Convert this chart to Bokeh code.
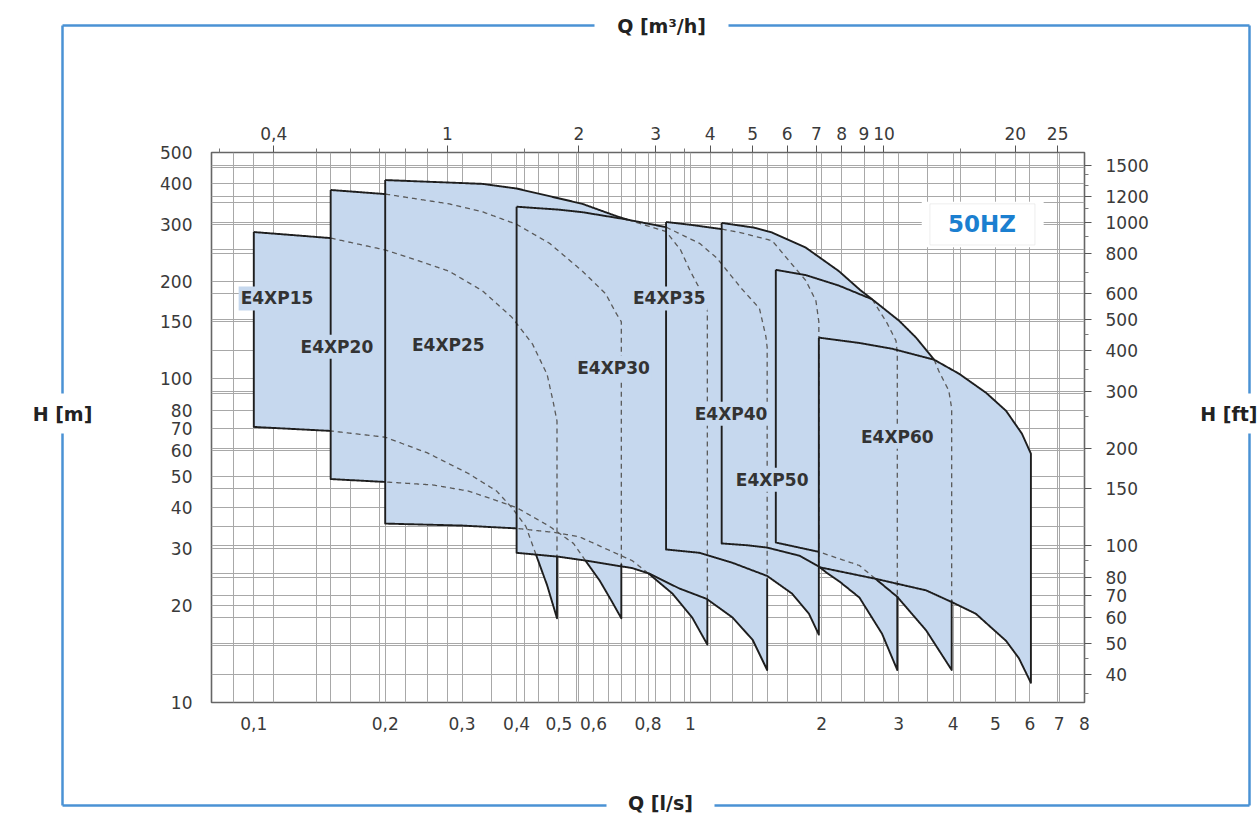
import numpy as np
from bokeh.plotting import figure
from bokeh.models import (LogAxis, LogScale, Range1d, FixedTicker, CustomJSTickFormatter,
                          Label, BoxAnnotation, GridBox)
from bokeh.core.properties import value
from bokeh.embed import file_html
from bokeh.resources import INLINE

# ---------------- data (Q in l/s, H in m) ----------------
models = ["E4XP15", "E4XP20", "E4XP25", "E4XP30", "E4XP35", "E4XP40", "E4XP50", "E4XP60"]
label_q = [0.113, 0.155, 0.279, 0.667, 0.895, 1.24, 1.54, 2.98]
label_h = [177, 125.6, 127, 108, 177, 78, 48.8, 66.2]

xp15_top_q = [0.1, 0.15, 0.2, 0.235, 0.28, 0.334, 0.39, 0.435, 0.47, 0.485, 0.495]
xp15_top_h = [284, 272, 250, 233, 215, 187, 155, 128, 103, 85, 74]
xp15_bot_q = [0.1, 0.15, 0.2, 0.25, 0.31, 0.36, 0.39, 0.42, 0.444, 0.47, 0.495]
xp15_bot_h = [71, 69, 66, 59, 51, 45, 40, 35, 28.4, 23, 18.2]

xp20_top_q = [0.15, 0.2, 0.28, 0.334, 0.4, 0.476, 0.566, 0.64, 0.675, 0.695]
xp20_top_h = [383, 372, 347, 328, 300, 262, 215, 183, 160, 150]
xp20_bot_q = [0.15, 0.2, 0.257, 0.31, 0.35, 0.4, 0.476, 0.54, 0.58, 0.62, 0.66, 0.695]
xp20_bot_h = [49, 48, 47, 45, 42.6, 40, 35, 31, 27, 23.8, 20.6, 18.2]

xp25_top_q = [0.2, 0.334, 0.4, 0.566, 0.677, 0.777, 0.88, 0.95, 1.0, 1.05, 1.094]
xp25_top_h = [411, 400, 387, 347, 318, 300, 285, 250, 215, 190, 162]
xp25_bot_q = [0.2, 0.3, 0.4, 0.49, 0.557, 0.653, 0.737, 0.806, 0.91, 1.01, 1.094]
xp25_bot_h = [35.7, 35.2, 34.5, 33.5, 32.5, 29.5, 27.4, 24.9, 21.7, 18.3, 15.1]

xp30_top_q = [0.4, 0.5, 0.566, 0.71, 0.88, 1.05, 1.15, 1.31, 1.44, 1.49, 1.5]
xp30_top_h = [340, 333, 327, 311, 294, 262, 236, 190, 165, 135, 125]
xp30_bot_q = [0.4, 0.5, 0.58, 0.737, 0.806, 0.944, 1.09, 1.25, 1.39, 1.5]
xp30_bot_h = [29, 28.2, 27.4, 26, 25, 22.5, 20.9, 18.3, 15.6, 12.6]

xp35_top_q = [0.88, 1.0, 1.18, 1.3, 1.54, 1.685, 1.84, 1.94, 1.97]
xp35_top_h = [305, 299, 290, 283, 267, 231, 201, 174, 150]
xp35_bot_q = [0.88, 1.05, 1.25, 1.5, 1.71, 1.87, 1.97]
xp35_bot_h = [29.7, 29, 27.0, 24.6, 21.7, 18.8, 16.2]

xp40_top_q = [1.18, 1.4, 1.54, 1.84, 2.19, 2.45, 2.61, 2.82, 2.96, 2.98]
xp40_top_h = [303, 293, 283, 254, 215, 188, 176, 149, 131, 120]
xp40_bot_q = [1.18, 1.35, 1.5, 1.78, 1.97, 2.05, 2.2, 2.44, 2.75, 2.98]
xp40_bot_h = [31, 30.6, 30.1, 28.4, 26.3, 25.2, 23.6, 21.1, 16.3, 12.6]

xp50_top_q = [1.57, 1.84, 2.19, 2.61, 3.01, 3.29, 3.62, 3.71, 3.91, 3.97]
xp50_top_h = [217, 209, 194, 176, 151, 134, 114.5, 105.6, 91.9, 81]
xp50_bot_q = [1.57, 1.97, 2.44, 2.98, 3.47, 3.97]
xp50_bot_h = [31.2, 29.2, 26.5, 21.2, 16.7, 12.6]

xp60_top_q = [1.97, 2.44, 2.9, 3.62, 4.13, 4.76, 5.29, 5.75, 6.03]
xp60_top_h = [134, 129, 123.8, 114.5, 103.6, 90.5, 79.6, 67.7, 58.7]
xp60_bot_q = [1.97, 2.66, 3.47, 3.98, 4.51, 4.9, 5.29, 5.66, 6.03]
xp60_bot_h = [26.2, 24.1, 22.2, 20.4, 18.8, 17, 15.5, 13.7, 11.5]

curves = [
    (xp15_top_q, xp15_top_h, xp15_bot_q, xp15_bot_h),
    (xp20_top_q, xp20_top_h, xp20_bot_q, xp20_bot_h),
    (xp25_top_q, xp25_top_h, xp25_bot_q, xp25_bot_h),
    (xp30_top_q, xp30_top_h, xp30_bot_q, xp30_bot_h),
    (xp35_top_q, xp35_top_h, xp35_bot_q, xp35_bot_h),
    (xp40_top_q, xp40_top_h, xp40_bot_q, xp40_bot_h),
    (xp50_top_q, xp50_top_h, xp50_bot_q, xp50_bot_h),
    (xp60_top_q, xp60_top_h, xp60_bot_q, xp60_bot_h),
]

# axes ticks
bottom_ticks = [0.1, 0.2, 0.3, 0.4, 0.5, 0.6, 0.8, 1, 2, 3, 4, 5, 6, 7, 8]
left_ticks = [10, 20, 30, 40, 50, 60, 70, 80, 100, 150, 200, 300, 400, 500]
top_ticks = [0.4, 1, 2, 3, 4, 5, 6, 7, 8, 9, 10, 20, 25]
top_minor = [0.3, 0.5, 0.6, 0.7, 0.8, 0.9, 1.5, 2.5, 3.5, 4.5, 15, 30]
right_ticks = [40, 50, 60, 70, 80, 100, 150, 200, 300, 400, 500, 600, 800, 1000, 1200, 1500]
right_minor = [35, 45, 90, 250, 350, 450, 700, 900, 1100, 1300, 1400]

grid_ls = [0.09, 0.1, 0.15, 0.2, 0.25, 0.3, 0.35, 0.4, 0.45, 0.5, 0.55, 0.6, 0.65,
           0.75, 0.8, 0.9, 1, 1.5, 2, 2.5, 3, 3.5, 4, 5, 6, 7]
grid_m3h = [0.4, 0.5, 0.6, 0.7, 0.8, 0.9, 1, 1.5, 2, 2.5, 3, 3.5, 4, 4.5, 5, 6, 7, 8, 9, 10, 15, 20, 25]
grid_m = [15, 20, 25, 30, 35, 40, 50, 60, 70, 80, 90, 100, 150, 200, 250, 300, 350, 400, 450]
grid_ft = [40, 50, 60, 70, 80, 100, 150, 200, 300, 400, 500, 600, 800, 1000, 1200, 1500]

titles = ["Q [m³/h]", "Q [l/s]", "H [m]", "H [ft]"]

M3H_PER_LS = 3.6
FT_PER_M = 3.2808

FILL = "#c6d8ee"
OUT = "#1e1e1e"
DASH = "#5a5a5a"
BLUE = "#4a92d4"
W, H = 1259, 815

# ---------------- chart figure ----------------
p = figure(width=W, height=H, x_axis_type="log", y_axis_type="log",
           x_range=(0.08, 8), y_range=(10, 500),
           min_border_left=211, min_border_right=175, min_border_top=152, min_border_bottom=113,
           output_backend="svg", toolbar_location=None)
p.frame_align = False
p.outline_line_color = "#666666"
p.outline_line_width = 1.6
p.background_fill_color = "white"
p.border_fill_color = None
p.border_fill_alpha = 0

# grid
p.xgrid.ticker = FixedTicker(ticks=sorted(set(grid_ls + [v / M3H_PER_LS for v in grid_m3h])))
p.ygrid.ticker = FixedTicker(ticks=sorted(set(grid_m + [v / FT_PER_M for v in grid_ft])))
for g in (p.xgrid, p.ygrid):
    g.grid_line_color = "#a8a8a8"
    g.grid_line_width = 1
    g.grid_line_alpha = 1

fmt = CustomJSTickFormatter(code="return String(tick).replace('.', ',');")

xa = p.xaxis[0]
xa.ticker = FixedTicker(ticks=bottom_ticks, minor_ticks=[])
xa.formatter = fmt
ya = p.yaxis[0]
ya.ticker = FixedTicker(ticks=left_ticks, minor_ticks=[])
for ax in (xa, ya):
    ax.axis_line_color = None
    ax.major_tick_line_color = None
    ax.minor_tick_line_color = None
xa.major_label_standoff = 8
ya.major_label_standoff = 13

p.extra_x_ranges = {"m3h": Range1d(0.08 * M3H_PER_LS, 8 * M3H_PER_LS)}
p.extra_x_scales = {"m3h": LogScale()}
p.extra_y_ranges = {"ft": Range1d(10 * FT_PER_M, 500 * FT_PER_M)}
p.extra_y_scales = {"ft": LogScale()}

ta = LogAxis(x_range_name="m3h", ticker=FixedTicker(ticks=top_ticks, minor_ticks=top_minor),
             formatter=fmt)
ra = LogAxis(y_range_name="ft", ticker=FixedTicker(ticks=right_ticks, minor_ticks=right_minor))
for ax in (ta, ra):
    ax.axis_line_color = None
    ax.major_tick_line_color = "#555555"
    ax.minor_tick_line_color = "#777777"
    ax.major_tick_in = 0
    ax.major_tick_out = 7
    ax.minor_tick_in = 0
    ax.minor_tick_out = 4
ta.major_label_standoff = 6
ra.major_label_standoff = 14
p.add_layout(ta, "above")
p.add_layout(ra, "right")

for ax in (xa, ya, ta, ra):
    ax.major_label_text_font = "DejaVu Sans"
    ax.major_label_text_font_size = "17px"
    ax.major_label_text_color = "#3a3a3a"

# ---------------- regions ----------------
polys = []
for tq, th, bq, bh in curves:
    xs = list(tq) + list(bq)[::-1]
    ys = list(th) + list(bh)[::-1]
    polys.append((xs, ys))

p.patches([pl[0] for pl in polys], [pl[1] for pl in polys], fill_color=FILL, line_color=None)


def inside(px, py, lx, ly):
    c = False
    n = len(lx)
    j = n - 1
    for i in range(n):
        if (ly[i] > py) != (ly[j] > py):
            xc = (lx[j] - lx[i]) * (py - ly[i]) / (ly[j] - ly[i]) + lx[i]
            if px < xc:
                c = not c
        j = i
    return c


# split every outline into visible (solid) and covered (dashed) parts
logpolys = [(np.log10(xs), np.log10(ys)) for xs, ys in polys]
solid_x, solid_y, dash_x, dash_y = [], [], [], []
NSUB = 60
for i, (lx, ly) in enumerate(logpolys):
    later = logpolys[i + 1:]
    vx = list(lx) + [lx[0]]
    vy = list(ly) + [ly[0]]
    runs = []
    cur_state, cur_pts = None, []
    for k in range(len(vx) - 1):
        for s in range(NSUB):
            t0, t1 = s / NSUB, (s + 1) / NSUB
            ax0 = vx[k] + (vx[k + 1] - vx[k]) * t0
            ay0 = vy[k] + (vy[k + 1] - vy[k]) * t0
            ax1 = vx[k] + (vx[k + 1] - vx[k]) * t1
            ay1 = vy[k] + (vy[k + 1] - vy[k]) * t1
            mx, my = (ax0 + ax1) / 2, (ay0 + ay1) / 2
            hid = any(inside(mx, my, qx, qy) for qx, qy in later)
            if hid != cur_state:
                if cur_pts:
                    runs.append((cur_state, cur_pts))
                cur_state, cur_pts = hid, [(ax0, ay0)]
            cur_pts.append((ax1, ay1))
    if cur_pts:
        runs.append((cur_state, cur_pts))
    for hid, pts in runs:
        xs = [10 ** a for a, _ in pts]
        ys = [10 ** b for _, b in pts]
        if hid:
            dash_x.append(xs); dash_y.append(ys)
        else:
            solid_x.append(xs); solid_y.append(ys)

p.multi_line(dash_x, dash_y, line_color=DASH, line_width=1.3, line_dash="5 4")
p.multi_line(solid_x, solid_y, line_color=OUT, line_width=1.9, line_join="round")

# model labels
for name, q, h in zip(models, label_q, label_h):
    p.add_layout(Label(x=q, y=h, text=name, text_align="center", text_baseline="middle",
                       text_font="DejaVu Sans", text_font_style="bold", text_font_size="17px",
                       text_color="#333333", background_fill_color=FILL, padding=2))

# 50HZ box
p.add_layout(BoxAnnotation(left=3.39, right=6.45, bottom=255, top=352, fill_color="white",
                           fill_alpha=1, line_color=None))
p.add_layout(BoxAnnotation(left=3.54, right=6.16, bottom=259, top=347, fill_color="white",
                           fill_alpha=1, line_color="#c8c8c8", line_width=1))
p.add_layout(Label(x=4.66, y=300, text="50HZ", text_align="center", text_baseline="middle",
                   text_font="DejaVu Sans", text_font_style="bold", text_font_size="23px",
                   text_color="#1b7fd0"))

# ---------------- overlay figure: blue frame + titles (transparent) ----------------
bg = figure(width=W, height=H, x_range=Range1d(0, W), y_range=Range1d(H, 0),
            min_border=0, x_axis_location=None, y_axis_location=None,
            output_backend="svg", toolbar_location=None)
bg.frame_align = False
bg.outline_line_color = None
bg.grid.visible = False
bg.background_fill_color = None
bg.background_fill_alpha = 0
bg.border_fill_color = None
bg.border_fill_alpha = 0
L, R, T, B = 62, 1249, 25, 805
seg_x = [[L, 594], [728, R], [L, 606], [714, R], [L, L], [L, L], [R, R], [R, R]]
seg_y = [[T, T], [T, T], [B, B], [B, B], [T, 393], [433, B], [T, 393], [433, B]]
bg.multi_line(seg_x, seg_y, line_color=BLUE, line_width=2.5)
bg.text(x=[661, 660, 62], y=[25, 802, 413], text=titles[:3], text_align="center",
        text_baseline="middle", text_font=value("DejaVu Sans"), text_font_style="bold",
        text_font_size="19px", text_color="#222222")
bg.text(x=[1257], y=[413], text=[titles[3]], text_align="right",
        text_baseline="middle", text_font=value("DejaVu Sans"), text_font_style="bold",
        text_font_size="19px", text_color="#222222")

layout = GridBox(children=[(p, 0, 0), (bg, 0, 0)])
open("out.html", "w").write(file_html(layout, INLINE))
